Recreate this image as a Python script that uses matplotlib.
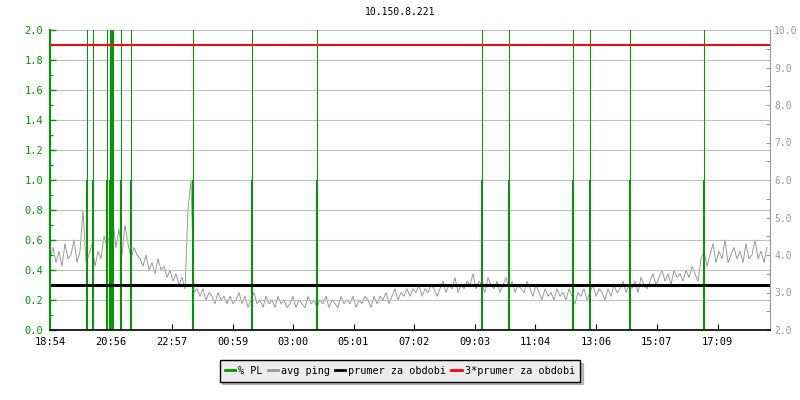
import matplotlib
matplotlib.use("Agg")
import matplotlib.pyplot as plt
from matplotlib.lines import Line2D
import numpy as np

# avg ping (ms), one value every 6 minutes starting 18:54
ping = [3.9, 4.2, 3.8, 4.1, 3.7, 4.3, 3.9, 4.0, 4.4, 3.8,
        4.1, 5.2, 3.8, 4.0, 4.3, 3.7, 4.1, 3.9, 4.5, 4.2,
        4.6, 4.9, 4.2, 4.7, 4.0, 4.8, 4.3, 3.9, 4.2, 4.0,
        3.9, 3.7, 4.0, 3.6, 3.8, 3.5, 3.9, 3.6, 3.7, 3.4,
        3.6, 3.3, 3.5, 3.2, 3.4, 3.1, 5.2, 6.0, 3.0, 3.1,
        2.9, 3.1, 2.8, 3.0, 2.9, 2.7, 3.0, 2.8, 2.9, 2.7,
        2.9, 2.7, 2.8, 3.0, 2.7, 2.9, 2.6, 2.8, 3.0, 2.7,
        2.8, 2.6, 2.9, 2.7, 2.8, 2.6, 2.9, 2.7, 2.8, 2.6,
        2.7, 2.9, 2.6, 2.8, 2.7, 2.6, 2.9, 2.7, 2.8, 2.6,
        2.8, 2.7, 2.9, 2.6, 2.8, 2.7, 2.6, 2.9, 2.7, 2.8,
        2.7, 2.9, 2.6, 2.8, 2.7, 2.9, 2.8, 2.6, 2.9, 2.7,
        2.9, 2.8, 3.0, 2.7, 2.9, 3.1, 2.8, 3.0, 2.9, 3.1,
        2.9, 3.1, 3.0, 3.2, 2.9, 3.1, 3.0, 3.2, 3.1, 2.9,
        3.1, 3.3, 3.0, 3.2, 3.1, 3.4, 3.0, 3.2, 3.1, 3.3,
        3.2, 3.5, 3.1, 3.3, 3.2, 3.0, 3.4, 3.2, 3.1, 3.3,
        3.0, 3.2, 3.4, 3.1, 3.3, 3.0, 3.2, 3.1, 3.0, 3.3,
        3.1, 2.9, 3.2, 3.0, 2.8, 3.1, 2.9, 3.0, 2.8, 3.1,
        2.9, 3.0, 2.8, 3.1, 2.9, 2.7, 3.0, 2.9, 3.1, 2.8,
        3.0, 3.2, 2.9, 3.1, 3.0, 2.8, 3.1, 2.9, 3.2, 3.0,
        3.1, 3.3, 3.0, 3.2, 3.1, 3.3, 3.0, 3.4, 3.2, 3.1,
        3.3, 3.5, 3.2, 3.4, 3.6, 3.3, 3.5, 3.2, 3.6, 3.4,
        3.5, 3.3, 3.6, 3.4, 3.7, 3.5, 3.3, 3.9, 4.1, 3.7,
        4.0, 4.3, 3.8, 4.1, 3.9, 4.4, 3.8, 4.0, 4.2, 3.9,
        4.1, 3.8, 4.3, 3.9, 4.0, 4.4, 3.9, 4.1, 3.8, 4.2]
ping_step = 6

# packet loss events (minutes since 18:54), value 1.0 = 100 %
pl_times = [74.6, 86.6, 113.4, 119, 121.4, 124, 126.6, 142.6, 162.6,
            286.6, 404.6, 534.6, 864.6, 918.6, 1046.6, 1080.6, 1160.6, 1308.6]
pl_vals = [1.0] * len(pl_times)

prumer = 3.2
tick_labels = ["18:54", "20:56", "22:57", "00:59", "03:00", "05:01",
               "07:02", "09:03", "11:04", "13:06", "15:07", "17:09"]

green = "#009900"
grey = "#999999"
mono = "DejaVu Sans Mono"
fs = 7

def minutes(lbl):
    h, m = map(int, lbl.split(":"))
    return (h * 60 + m - (18 * 60 + 54)) % 1440

tick_pos = [minutes(t) for t in tick_labels]

fig = plt.figure(figsize=(8, 4), dpi=100)
ax = fig.add_axes([50 / 800, 70 / 400, 720 / 800, 300 / 400])
ax2 = ax.twinx()
ax.set_zorder(ax2.get_zorder() + 1)
ax.patch.set_visible(False)

# ping on right axis
t = np.arange(len(ping)) * ping_step
ax2.plot(t, ping, color=grey, lw=0.7)

# packet loss
for x, v in zip(pl_times, pl_vals):
    ax.axvline(x, color=green, lw=0.5, antialiased=False)
ax.vlines(pl_times, 0, pl_vals, color=green, lw=1.25, antialiased=False)

# averages
ax.plot([0, 1440], [prumer, prumer], color="black", lw=2.2, transform=ax2.transData)
ax.plot([0, 1440], [3 * prumer, 3 * prumer], color="red", lw=1.4, transform=ax2.transData)

ax.set_xlim(0, 1440)
ax.set_ylim(0, 2)
ax2.set_ylim(2, 10)

ax.set_yticks(np.arange(0, 2.01, 0.2))
ax.set_yticks(np.arange(0.1, 2.0, 0.2), minor=True)
ax.set_yticklabels([f"{v:.1f}" for v in np.arange(0, 2.01, 0.2)])
ax.yaxis.grid(True, color="#c0c0c0", lw=0.8)
ax.set_axisbelow(True)
ax2.set_yticks(np.arange(2, 10.01, 1))
ax2.set_yticks(np.arange(2.5, 10, 1), minor=True)
ax2.set_yticklabels([f"{v:.1f}" for v in np.arange(2, 10.01, 1)])

ax.set_xticks(tick_pos)
ax.set_xticklabels(tick_labels)

for a in (ax, ax2):
    a.spines["top"].set_visible(False)
ax.spines["right"].set_visible(False)
ax.spines["left"].set_color(green)
ax.spines["left"].set_linewidth(1.5)
ax.spines["bottom"].set_linewidth(1.2)
ax2.spines["left"].set_visible(False)
ax2.spines["bottom"].set_visible(False)
ax2.spines["right"].set_color(grey)
ax2.spines["right"].set_linewidth(0.8)

ax.tick_params(axis="y", which="both", direction="in", colors=green,
               labelsize=fs + 0.5, pad=5, length=4, width=1)
ax.tick_params(axis="y", which="minor", length=2.5)
ax.tick_params(axis="x", direction="in", length=4, width=0.8, labelsize=fs + 0.5, pad=5)
ax2.tick_params(axis="y", which="both", direction="in", colors=grey,
                labelsize=fs, pad=3, length=3, width=0.8)
for lab in ax.get_xticklabels() + ax.get_yticklabels() + ax2.get_yticklabels():
    lab.set_family(mono)

fig.text(0.5, 1 - 12 / 400, "10.150.8.221", ha="center", va="center",
         family=mono, fontsize=fs)

handles = [Line2D([], [], color=green, lw=2),
           Line2D([], [], color=grey, lw=2),
           Line2D([], [], color="black", lw=2),
           Line2D([], [], color="red", lw=2)]
labels = ["% PL", "avg ping", "prumer za obdobi", "3*prumer za obdobi"]
leg = fig.legend(handles, labels, loc="center", bbox_to_anchor=(0.5, 1 - 371 / 400),
                 ncol=4, frameon=True, fancybox=False, shadow={"color": "#808080"},
                 edgecolor="black", facecolor="#ececec", framealpha=1,
                 handlelength=1.0, handletextpad=0.3, columnspacing=0.5,
                 borderpad=0.55, prop={"family": mono, "size": fs + 0.3})
leg.get_frame().set_linewidth(1)

fig.savefig("out.png", dpi=100)
